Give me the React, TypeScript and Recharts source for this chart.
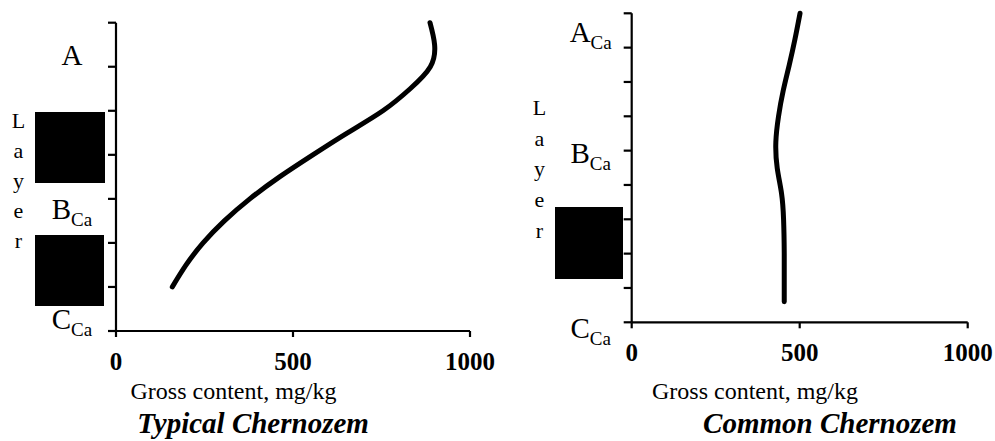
import { LineChart, Line, XAxis, YAxis } from 'recharts';

// depth (cm) vs gross content (mg/kg)
const typicalDepth = [0, 10, 20, 30, 40, 50, 60, 70, 80, 90, 100, 110, 120];
const typicalContent = [887, 900, 888, 831, 754, 654, 556, 462, 378, 306, 246, 198, 159];

const commonDepth = [0, 15, 30, 45, 60, 75, 90, 105, 120, 140, 168];
const commonContent = [501, 486, 469, 451, 437, 429, 433, 446, 452, 454, 454];

const contentTicks = [0, 500, 1000];
const typicalDepthTicks = [0, 20, 40, 60, 80, 100, 120, 140];
const commonDepthTicks = [0, 20, 40, 60, 80, 100, 120, 140, 160, 180];

const typicalLayerNames = ['A', 'B', 'C'];
const typicalLayerSubs = ['', 'Ca', 'Ca'];
const typicalLayerDepths = [19, 89, 139];

const commonLayerNames = ['A', 'B', 'C'];
const commonLayerSubs = ['Ca', 'Ca', 'Ca'];
const commonLayerDepths = [17, 87, 189];

const FONT = "'Liberation Serif', 'Times New Roman', serif";

const typicalData = typicalDepth.map((d, i) => ({ depth: d, content: typicalContent[i] }));
const commonData = commonDepth.map((d, i) => ({ depth: d, content: commonContent[i] }));

const LayerTick = ({ x, y, payload, major, names, subs, depths, labelOffset }: any) => {
  const v = payload.value;
  const idx = depths.indexOf(v);
  return (
    <g>
      {major.includes(v) && <line x1={x} x2={x + 8} y1={y} y2={y} stroke="#000" strokeWidth={2.2} />}
      {idx >= 0 && (
        <text x={x - labelOffset} y={y} textAnchor="middle" fontFamily={FONT} fontSize={29} fill="#000">
          {names[idx]}
          {subs[idx] && (
            <tspan dy={7} fontSize={19}>
              {subs[idx]}
            </tspan>
          )}
        </text>
      )}
    </g>
  );
};

function Profile({ data, depthTicks, names, subs, depths, yWidth, margin, width, labelOffset }: any) {
  const allTicks = [...depthTicks, ...depths].sort((a: number, b: number) => a - b);
  return (
    <LineChart width={width} height={441} data={data} layout="vertical" margin={margin}>
      <XAxis
        type="number"
        dataKey="content"
        domain={[0, 1000]}
        ticks={contentTicks}
        height={30}
        stroke="#000"
        axisLine={{ stroke: '#000', strokeWidth: 2.2 }}
        tickLine={{ stroke: '#000', strokeWidth: 2.2 }}
        tickSize={6}
        tickMargin={15}
        tick={{ fill: '#000', fontFamily: FONT, fontSize: 25, fontWeight: 'bold' }}
      />
      <YAxis
        type="number"
        dataKey="depth"
        domain={[depthTicks[0], depthTicks[depthTicks.length - 1]]}
        ticks={allTicks}
        interval={0}
        width={yWidth}
        axisLine={{ stroke: '#000', strokeWidth: 2.2 }}
        tickLine={false}
        tickSize={8}
        tickMargin={0}
        tick={(p: any) => (
          <LayerTick {...p} major={depthTicks} names={names} subs={subs} depths={depths} labelOffset={labelOffset} />
        )}
      />
      <Line
        dataKey="content"
        type="natural"
        stroke="#000"
        strokeWidth={5}
        strokeLinecap="round"
        dot={false}
        isAnimationActive={false}
      />
    </LineChart>
  );
}

export default function App() {
  return (
    <div style={{ position: 'fixed', left: 0, top: 0, width: 995, height: 441, background: '#fff', fontFamily: FONT }}>
      <div style={{ position: 'absolute', left: 0, top: 0 }}>
        <Profile
          width={500}
          data={typicalData}
          depthTicks={typicalDepthTicks}
          names={typicalLayerNames}
          subs={typicalLayerSubs}
          depths={typicalLayerDepths}
          yWidth={116}
          labelOffset={36}
          margin={{ top: 22.7, right: 30, left: 0, bottom: 80 }}
        />
      </div>
      <div style={{ position: 'absolute', left: 500, top: 0 }}>
        <Profile
          width={495}
          data={commonData}
          depthTicks={commonDepthTicks}
          names={commonLayerNames}
          subs={commonLayerSubs}
          depths={commonLayerDepths}
          yWidth={131.7}
          labelOffset={33}
          margin={{ top: 13.3, right: 27.3, left: 0, bottom: 88.7 }}
        />
      </div>
      <svg width={995} height={441} style={{ position: 'absolute', left: 0, top: 0, pointerEvents: 'none' }}>
        <g fontFamily={FONT} fill="#000">
          <text x={18.5} y={128} fontSize={22} textAnchor="middle">
            {['L', 'a', 'y', 'e', 'r'].map((c, i) => (
              <tspan key={i} x={18.5} dy={i === 0 ? 0 : 30}>{c}</tspan>
            ))}
          </text>
          <text x={539.5} y={115} fontSize={22} textAnchor="middle">
            {['L', 'a', 'y', 'e', 'r'].map((c, i) => (
              <tspan key={i} x={539.5} dy={i === 0 ? 0 : 30.7}>{c}</tspan>
            ))}
          </text>
          <text x={233.5} y={399} fontSize={24} textAnchor="middle">Gross content, mg/kg</text>
          <text x={755} y={399} fontSize={24} textAnchor="middle">Gross content, mg/kg</text>
          <text x={253} y={433} fontSize={29} fontWeight="bold" fontStyle="italic" textAnchor="middle">Typical Chernozem</text>
          <text x={830} y={433} fontSize={29} fontWeight="bold" fontStyle="italic" textAnchor="middle">Common Chernozem</text>
        </g>
        <rect x={35} y={112} width={70} height={71} fill="#000" />
        <rect x={35} y={235} width={69} height={71} fill="#000" />
        <rect x={555} y={207} width={68} height={72} fill="#000" />
      </svg>
    </div>
  );
}
